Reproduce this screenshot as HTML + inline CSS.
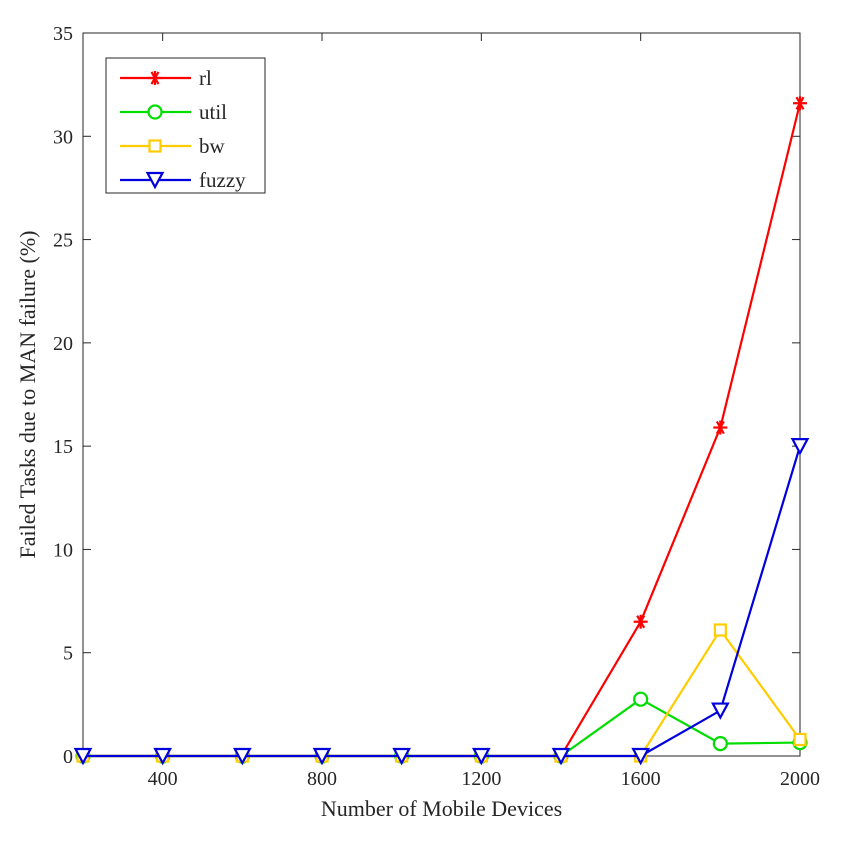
<!DOCTYPE html>
<html><head><meta charset="utf-8"><style>
body{margin:0;background:#fff}
svg text{font-family:"Liberation Serif",serif;fill:#262626}
</style></head><body>
<svg id="chart" width="850" height="837" viewBox="0 0 850 837"></svg>
<script>
const categories=[200,400,600,800,1000,1200,1400,1600,1800,2000];
const rlValues=[0,0,0,0,0,0,0,6.5,15.9,31.6];
const utilValues=[0,0,0,0,0,0,0,2.75,0.6,0.65];
const bwValues=[0,0,0,0,0,0,0,0,6.1,0.8];
const fuzzyValues=[0,0,0,0,0,0,0,0,2.2,15];
const xTicks=[400,800,1200,1600,2000];
const yTicks=[0,5,10,15,20,25,30,35];
const seriesNames=["rl","util","bw","fuzzy"];
const seriesColors=["#ff0000","#00dd00","#ffcc00","#0000dd"];

const NS="http://www.w3.org/2000/svg";
const svg=document.getElementById('chart');
const L=83,R=800,T=33,B=756;
const xs=v=>L+(v-200)/1800*(R-L);
const ys=v=>B-v/35*(B-T);
function mk(tag,attrs,parent){const e=document.createElementNS(NS,tag);for(const k in attrs)e.setAttribute(k,attrs[k]);(parent||svg).appendChild(e);return e;}

const axes=mk('g',{});


const frame=mk('rect',{x:L,y:T,width:R-L,height:B-T,fill:'none',stroke:'#262626','stroke-width':1},axes);


for(const t of xTicks){
  const x=xs(t);
  mk('line',{x1:x,y1:B,x2:x,y2:B-8,stroke:'#262626'},axes);
  mk('line',{x1:x,y1:T,x2:x,y2:T+8,stroke:'#262626'},axes);
  const lb=mk('text',{x:x,y:B+29,'text-anchor':'middle','font-size':20},axes);
  lb.textContent=t;
  
  
}
for(const t of yTicks){
  const y=ys(t);
  mk('line',{x1:L,y1:y,x2:L+8,y2:y,stroke:'#262626'},axes);
  mk('line',{x1:R,y1:y,x2:R-8,y2:y,stroke:'#262626'},axes);
  const lb=mk('text',{x:L-10,y:y+7,'text-anchor':'end','font-size':20},axes);
  lb.textContent=t;
  
  
}
const xt=mk('text',{x:(L+R)/2,y:B+60,'text-anchor':'middle','font-size':22});
xt.textContent='Number of Mobile Devices';


const yt=mk('text',{x:0,y:0,'text-anchor':'middle','font-size':22,transform:`translate(35,${(T+B)/2}) rotate(-90)`});
yt.textContent='Failed Tasks due to MAN failure (%)';



function marker(kind,x,y,c,g){
  const sw=2.2;
  if(kind===0){
    for(const a of [0,60,120]){const r=a*Math.PI/180,d=7;
      mk('line',{x1:x-d*Math.cos(r),y1:y-d*Math.sin(r),x2:x+d*Math.cos(r),y2:y+d*Math.sin(r),stroke:c,'stroke-width':sw},g);}
    mk('line',{x1:x,y1:y-7,x2:x,y2:y+7,stroke:c,'stroke-width':sw},g);
  }else if(kind===1){mk('circle',{cx:x,cy:y,r:6.5,fill:'#fff',stroke:c,'stroke-width':sw},g);}
  else if(kind===2){mk('rect',{x:x-5.5,y:y-5.5,width:11,height:11,fill:'#fff',stroke:c,'stroke-width':sw},g);}
  else{mk('polygon',{points:`${x-7.5},${y-7} ${x+7.5},${y-7} ${x},${y+7}`,fill:'#fff',stroke:c,'stroke-width':sw},g);}
}
const allVals=[rlValues,utilValues,bwValues,fuzzyValues];
allVals.forEach((vals,i)=>{
  const g=mk('g',{});
  
  
  const pts=vals.map((v,j)=>xs(categories[j])+','+ys(v)).join(' ');
  mk('polyline',{points:pts,fill:'none',stroke:seriesColors[i],'stroke-width':2.2},g);
  vals.forEach((v,j)=>marker(i,xs(categories[j]),ys(v),seriesColors[i],g));
});
// legend
const lg=mk('g',{});


mk('rect',{x:106,y:58,width:159,height:135,fill:'#fff',stroke:'#262626'},lg);
seriesNames.forEach((n,i)=>{
  const y=78+i*34;
  const e=mk('g',{},lg);
  
  
  mk('line',{x1:120,y1:y,x2:191,y2:y,stroke:seriesColors[i],'stroke-width':2.2},e);
  marker(i,155,y,seriesColors[i],e);
  const t=mk('text',{x:199,y:y+7,'font-size':21},e);
  t.textContent=n;
});
</script>
</body></html>
